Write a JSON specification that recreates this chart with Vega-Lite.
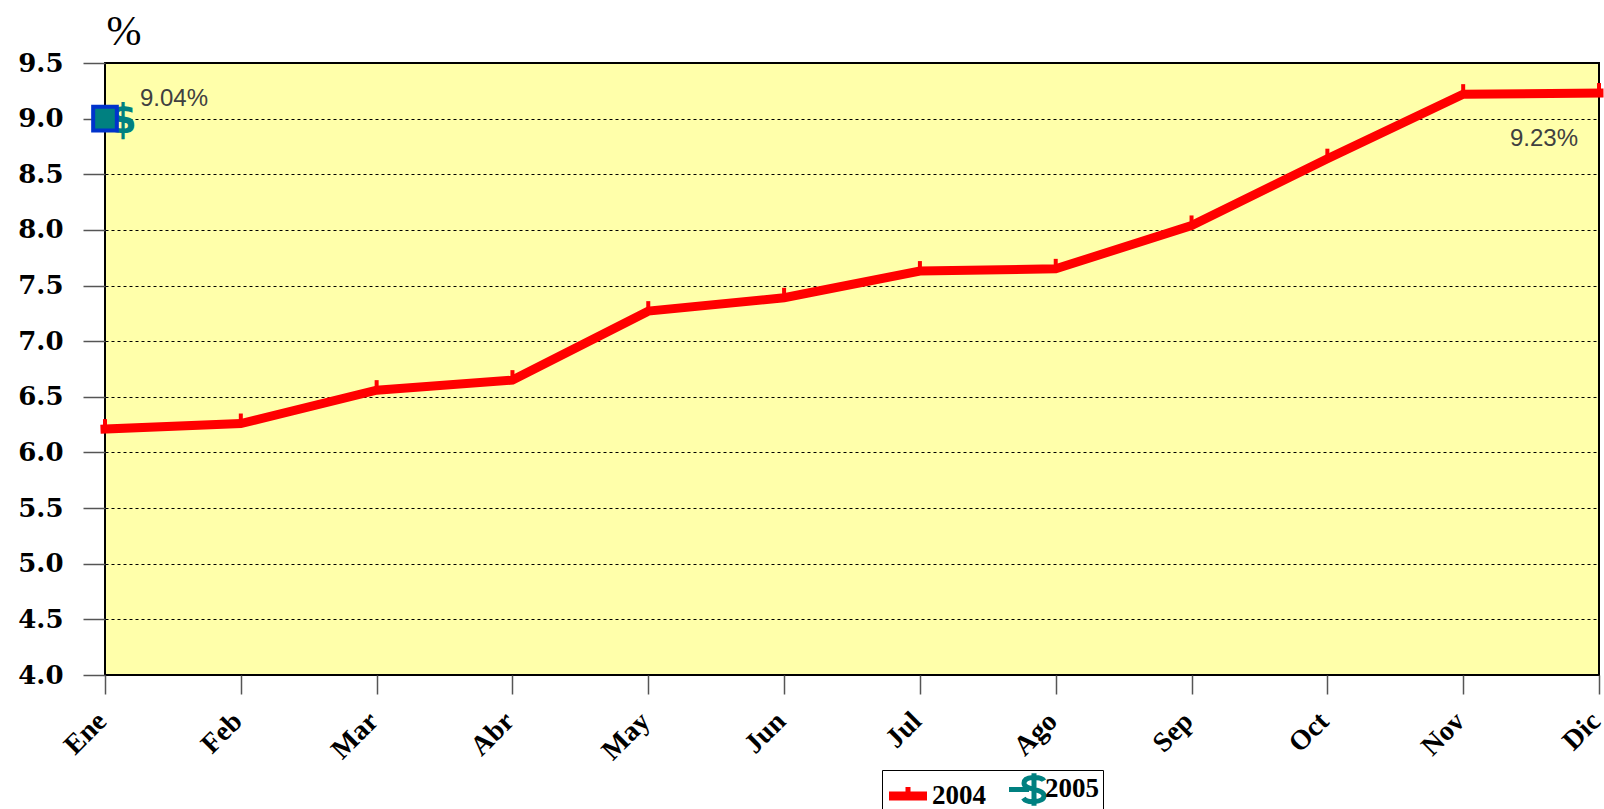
{
  "$schema": "https://vega.github.io/schema/vega-lite/v6.json",
  "width": 1494,
  "height": 612,
  "autosize": {"type": "none"},
  "padding": {"left": 105, "top": 63, "right": 5, "bottom": 134},
  "background": "white",
  "data": {
    "values": [
      {"month": "Ene", "series": "2004", "value": 6.21},
      {"month": "Feb", "series": "2004", "value": 6.26},
      {"month": "Mar", "series": "2004", "value": 6.56},
      {"month": "Abr", "series": "2004", "value": 6.65},
      {"month": "May", "series": "2004", "value": 7.27},
      {"month": "Jun", "series": "2004", "value": 7.39},
      {"month": "Jul", "series": "2004", "value": 7.63},
      {"month": "Ago", "series": "2004", "value": 7.65},
      {"month": "Sep", "series": "2004", "value": 8.04},
      {"month": "Oct", "series": "2004", "value": 8.64},
      {"month": "Nov", "series": "2004", "value": 9.22},
      {"month": "Dic", "series": "2004", "value": 9.23, "label": "9.23%"},
      {"month": "Ene", "series": "2005", "value": 9.0, "label": "9.04%"}
    ]
  },
  "encoding": {
    "x": {
      "field": "month",
      "type": "ordinal",
      "sort": ["Ene","Feb","Mar","Abr","May","Jun","Jul","Ago","Sep","Oct","Nov","Dic"],
      "scale": {"type": "point", "padding": 0},
      "axis": {
        "title": null,
        "domain": false,
        "grid": false,
        "tickSize": 19,
        "tickColor": "#555555",
        "tickWidth": 1.5,
        "labelAngle": -45,
        "labelAlign": "right",
        "labelBaseline": "top",
        "labelPadding": 13,
        "labelOffset": -13,
        "labelFont": "Liberation Serif",
        "labelFontWeight": "bold",
        "labelFontSize": 28,
        "labelColor": "black"
      }
    },
    "y": {
      "field": "value",
      "type": "quantitative",
      "scale": {"domain": [4, 9.5], "nice": false, "zero": false},
      "axis": {
        "values": [4, 4.5, 5, 5.5, 6, 6.5, 7, 7.5, 8, 8.5, 9, 9.5],
        "format": ".1f",
        "domain": false,
        "tickSize": 22,
        "tickColor": "#555555",
        "tickWidth": 1.5,
        "labelPadding": 20,
        "labelFont": "DejaVu Serif",
        "labelFontWeight": "bold",
        "labelFontSize": 26,
        "labelColor": "black",
        "grid": true,
        "gridColor": "black",
        "gridDash": [3, 3],
        "gridWidth": 1,
        "gridOpacity": 1,
        "title": "%",
        "titleAngle": 0,
        "titleX": 1,
        "titleY": -32,
        "titleAlign": "left",
        "titleBaseline": "middle",
        "titleFont": "Liberation Serif",
        "titleFontWeight": "normal",
        "titleFontSize": 42,
        "titleColor": "black"
      }
    }
  },
  "layer": [
    {
      "transform": [{"filter": "datum.series == '2004'"}],
      "mark": {"type": "line", "color": "#ff0000", "strokeWidth": 9, "strokeCap": "square", "strokeJoin": "miter"}
    },
    {
      "transform": [{"filter": "datum.series == '2004'"}],
      "mark": {"type": "point", "shape": "M-0.2,-1L0.2,-1L0.2,0L-0.2,0Z", "filled": true, "size": 400, "opacity": 1, "color": "#ff0000"}
    },
    {
      "transform": [{"filter": "datum.month == 'Ene'"}],
      "mark": {"type": "point", "filled": false, "opacity": 0, "size": 625, "strokeWidth": 5},
      "encoding": {
        "color": {
          "field": "series",
          "type": "nominal",
          "scale": {"domain": ["2004", "2005"], "range": ["#ff0000", "#008080"]},
          "legend": {
            "title": null,
            "orient": "none",
            "legendX": 777,
            "legendY": 707,
            "direction": "horizontal",
            "columns": 2,
            "strokeColor": "black",
            "fillColor": "white",
            "padding": 4,
            "columnPadding": 13,
            "labelOffset": 16,
            "symbolSize": 625,
            "symbolOpacity": 1,
            "symbolStrokeWidth": 5,
            "labelExpr": "datum.label == '2005' ? '2005   ' : datum.label",
            "labelFont": "Liberation Serif",
            "labelFontWeight": "bold",
            "labelFontSize": 27,
            "labelColor": "black"
          }
        },
        "shape": {
          "field": "series",
          "type": "nominal",
          "scale": {
            "domain": ["2004", "2005"],
            "range": [
              "M-0.76,-0.16L1.88,-0.16L1.88,0.16L-0.76,0.16ZM0.56,-0.16L0.56,-0.72",
              "M2.4,-0.7C2.2,-1.05 0.8,-1.1 0.8,-0.5C0.8,0.05 2.4,-0.05 2.4,0.5C2.4,1.1 1.0,1.1 0.75,0.7M1.6,-1.3L1.6,1.3M-0.4,0L1.2,0"
            ]
          },
          "legend": {
            "title": null,
            "orient": "none",
            "legendX": 777,
            "legendY": 707,
            "direction": "horizontal",
            "columns": 2,
            "strokeColor": "black",
            "fillColor": "white",
            "padding": 4,
            "columnPadding": 13,
            "labelOffset": 16,
            "symbolSize": 625,
            "symbolOpacity": 1,
            "symbolStrokeWidth": 5,
            "labelExpr": "datum.label == '2005' ? '2005   ' : datum.label",
            "labelFont": "Liberation Serif",
            "labelFontWeight": "bold",
            "labelFontSize": 27,
            "labelColor": "black"
          }
        }
      }
    },
    {
      "transform": [{"filter": "datum.series == '2005'"}],
      "mark": {"type": "text", "text": "$", "font": "DejaVu Sans", "fontWeight": "bold", "fontSize": 40, "color": "#008080", "dx": 18, "dy": 2, "align": "center", "baseline": "middle"}
    },
    {
      "transform": [{"filter": "datum.series == '2005'"}],
      "mark": {"type": "point", "shape": "square", "filled": true, "fill": "#008080", "stroke": "#0033cc", "strokeWidth": 4, "size": 560, "opacity": 1}
    },
    {
      "transform": [{"filter": "datum.series == '2005'"}],
      "mark": {"type": "text", "font": "Liberation Sans", "fontSize": 24, "color": "#404040", "align": "left", "baseline": "middle", "dx": 35, "dy": -20},
      "encoding": {"text": {"field": "label"}}
    },
    {
      "transform": [{"filter": "datum.series == '2004' && isValid(datum.label)"}],
      "mark": {"type": "text", "font": "Liberation Sans", "fontSize": 24, "color": "#404040", "align": "right", "baseline": "middle", "dx": -21, "dy": 46},
      "encoding": {"text": {"field": "label"}}
    }
  ],
  "config": {
    "view": {"fill": "#ffffaa", "stroke": "black", "strokeWidth": 2}
  }
}
